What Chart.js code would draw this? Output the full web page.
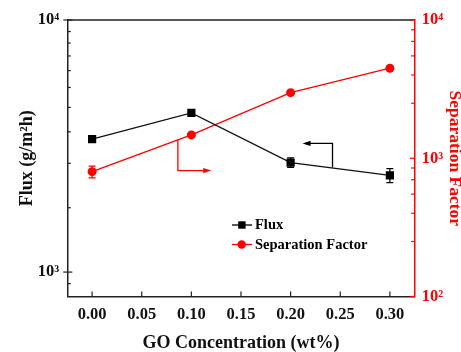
<!DOCTYPE html>
<html>
<head>
<meta charset="utf-8">
<script src="https://cdn.jsdelivr.net/npm/chart.js@4"></script>
<style>
  html, body { margin: 0; padding: 0; background: #fff; }
  #wrap { width: 461px; height: 352px; }
</style>
</head>
<body>
<div id="wrap"><canvas id="c" width="461" height="352"></canvas></div>
<script>
// ---- data ----
const goConc = [0.00, 0.10, 0.20, 0.30];
const flux = [3370, 4280, 2720, 2420];
const fluxErr = [50, 50, 120, 155];
const sepFactor = [800, 1475, 2980, 4480];
const sepErr = [78, 40, 60, 90];
const xTicks = [0.00, 0.05, 0.10, 0.15, 0.20, 0.25, 0.30];
const leftMajor = [1000, 10000];
const leftMinor = [900, 1800, 2700, 3600, 4500, 5400, 6300, 7200, 8100, 9000];
const rightMajor = [100, 1000, 10000];
const rightMinor = [250, 400, 550, 700, 850, 2500, 4000, 5500, 7000, 8500];
const supMap = {100: '10\u00B2', 1000: '10\u00B3', 10000: '10\u2074'};

const RED = '#ff0000';
const FONT = "'Liberation Serif', 'Times New Roman', serif";

// annotation arrows (in data units)
const arrows = [
  {axis: 'y', color: '#000', x: 0.2422, yFrom: 2600, yTo: 3240, xTip: 0.212},
  {axis: 'y2', color: RED, x: 0.0864, yFrom: 1357, yTo: 814, xTip: 0.12}
];

const fixed = (w, h) => (s) => { if (w !== null) s.width = w; if (h !== null) s.height = h; };

const extras = {
  id: 'extras',
  beforeDatasetsDraw(chart) {
    const ctx = chart.ctx, xs = chart.scales.x;
    const sets = [[flux, fluxErr, chart.scales.y, '#000'], [sepFactor, sepErr, chart.scales.y2, RED]];
    ctx.save();
    ctx.lineWidth = 1.2;
    for (const [vals, errs, ys, col] of sets) {
      ctx.strokeStyle = col;
      vals.forEach((v, i) => {
        const px = xs.getPixelForValue(goConc[i]);
        const a = ys.getPixelForValue(v + errs[i]);
        const b = ys.getPixelForValue(v - errs[i]);
        ctx.beginPath();
        ctx.moveTo(px, a); ctx.lineTo(px, b);
        ctx.moveTo(px - 3.5, a); ctx.lineTo(px + 3.5, a);
        ctx.moveTo(px - 3.5, b); ctx.lineTo(px + 3.5, b);
        ctx.stroke();
      });
    }
    ctx.restore();
  },
  afterDraw(chart) {
    const ctx = chart.ctx, ca = chart.chartArea;
    const xs = chart.scales.x, yl = chart.scales.y, yr = chart.scales.y2;
    ctx.save();
    // top frame
    ctx.strokeStyle = '#222'; ctx.lineWidth = 1.5;
    ctx.beginPath(); ctx.moveTo(ca.left, ca.top); ctx.lineTo(ca.right - 1, ca.top); ctx.stroke();
    // inward ticks
    ctx.lineWidth = 1.2;
    ctx.strokeStyle = '#222';
    xTicks.forEach(v => { const p = xs.getPixelForValue(v); ctx.beginPath(); ctx.moveTo(p, ca.bottom); ctx.lineTo(p, ca.bottom - 5); ctx.stroke(); });
    leftMajor.forEach(v => { const p = yl.getPixelForValue(v); ctx.beginPath(); ctx.moveTo(ca.left - 4, p); ctx.lineTo(ca.left + 5, p); ctx.stroke(); });
    leftMinor.forEach(v => { const p = yl.getPixelForValue(v); ctx.beginPath(); ctx.moveTo(ca.left, p); ctx.lineTo(ca.left + 3.5, p); ctx.stroke(); });
    ctx.strokeStyle = RED;
    rightMajor.forEach(v => { const p = yr.getPixelForValue(v); ctx.beginPath(); ctx.moveTo(ca.right - 5, p); ctx.lineTo(ca.right, p); ctx.stroke(); });
    rightMinor.forEach(v => { const p = yr.getPixelForValue(v); ctx.beginPath(); ctx.moveTo(ca.right - 3.5, p); ctx.lineTo(ca.right, p); ctx.stroke(); });
    // arrows
    arrows.forEach(a => {
      const ys = chart.scales[a.axis];
      const x = xs.getPixelForValue(a.x), y0 = ys.getPixelForValue(a.yFrom), y1 = ys.getPixelForValue(a.yTo);
      const xt = xs.getPixelForValue(a.xTip);
      const dir = Math.sign(xt - x);
      ctx.strokeStyle = a.color; ctx.fillStyle = a.color; ctx.lineWidth = 1.3;
      ctx.beginPath(); ctx.moveTo(x, y0); ctx.lineTo(x, y1); ctx.lineTo(xt - dir * 6, y1); ctx.stroke();
      ctx.beginPath(); ctx.moveTo(xt, y1); ctx.lineTo(xt - dir * 8, y1 - 2.6); ctx.lineTo(xt - dir * 8, y1 + 2.6); ctx.closePath(); ctx.fill();
    });
    // legend
    const items = [
      {label: chart.data.datasets[0].label, color: '#000', style: 'rect', y: 225},
      {label: chart.data.datasets[1].label, color: RED, style: 'circle', y: 244.5}
    ];
    ctx.font = 'bold 14.5px ' + FONT;
    ctx.textBaseline = 'middle';
    items.forEach(it => {
      ctx.strokeStyle = it.color; ctx.fillStyle = it.color; ctx.lineWidth = 1.3;
      ctx.beginPath(); ctx.moveTo(232, it.y); ctx.lineTo(252, it.y); ctx.stroke();
      if (it.style === 'rect') ctx.fillRect(238.2, it.y - 3.7, 7.4, 7.4);
      else { ctx.beginPath(); ctx.arc(241.7, it.y, 4.2, 0, Math.PI * 2); ctx.fill(); }
      ctx.fillStyle = '#000';
      ctx.fillText(it.label, 255, it.y + 0.5);
    });
    ctx.restore();
  }
};

new Chart(document.getElementById('c'), {
  type: 'line',
  data: {
    datasets: [
      {
        label: 'Flux', yAxisID: 'y',
        data: goConc.map((x, i) => ({x, y: flux[i]})),
        borderColor: '#111', backgroundColor: '#000', borderWidth: 1.3,
        pointStyle: 'rect', pointRadius: 5.8, pointBorderWidth: 0, pointHoverRadius: 5.8
      },
      {
        label: 'Separation Factor', yAxisID: 'y2',
        data: goConc.map((x, i) => ({x, y: sepFactor[i]})),
        borderColor: RED, backgroundColor: RED, borderWidth: 1.3,
        pointStyle: 'circle', pointRadius: 4.5, pointBorderWidth: 0, pointHoverRadius: 4.5
      }
    ]
  },
  options: {
    responsive: false, animation: false, devicePixelRatio: 1,
    layout: {padding: {top: 20, left: 0, right: 0, bottom: 0}},
    plugins: {legend: {display: false}, tooltip: {enabled: false}},
    scales: {
      x: {
        type: 'linear', min: -0.025, max: 0.325,
        afterBuildTicks: s => { s.ticks = xTicks.map(v => ({value: v})); },
        afterFit: fixed(null, 55.5),
        grid: {display: false, drawTicks: false},
        border: {display: true, color: '#222', width: 1.5},
        ticks: {color: '#111', padding: 8, font: {family: FONT, size: 16.5, weight: 'bold'}, callback: v => v.toFixed(2)},
        title: {display: true, text: 'GO Concentration (wt%)', color: '#111', padding: {top: 0, bottom: 0}, font: {family: FONT, size: 18, weight: 'bold', lineHeight: 1}}
      },
      y: {
        type: 'logarithmic', position: 'left', min: 800, max: 10000,
        afterBuildTicks: s => { s.ticks = leftMajor.map(v => ({value: v})); },
        afterFit: fixed(67.3, null),
        grid: {display: false, drawTicks: false},
        border: {display: true, color: '#222', width: 1.5},
        ticks: {color: '#111', padding: 8, font: {family: FONT, size: 16.5, weight: 'bold'}, callback: v => supMap[v] || ''},
        title: {display: true, text: 'Flux (g/m\u00B2h)', color: '#111', padding: {top: 18, bottom: 0}, font: {family: FONT, size: 18, weight: 'bold', lineHeight: 1}}
      },
      y2: {
        type: 'logarithmic', position: 'right', min: 100, max: 10000,
        afterBuildTicks: s => { s.ticks = rightMajor.map(v => ({value: v})); },
        afterFit: fixed(46.3, null),
        grid: {display: false, drawTicks: false},
        border: {display: true, color: RED, width: 1.5},
        ticks: {color: RED, padding: 7, font: {family: FONT, size: 16.5, weight: 'bold'}, callback: v => supMap[v] || ''},
        title: {display: true, text: 'Separation Factor', color: RED, padding: {top: -2.7, bottom: 0}, font: {family: FONT, size: 17.5, weight: 'bold', lineHeight: 1}}
      }
    }
  },
  plugins: [extras]
});
</script>
</body>
</html>
